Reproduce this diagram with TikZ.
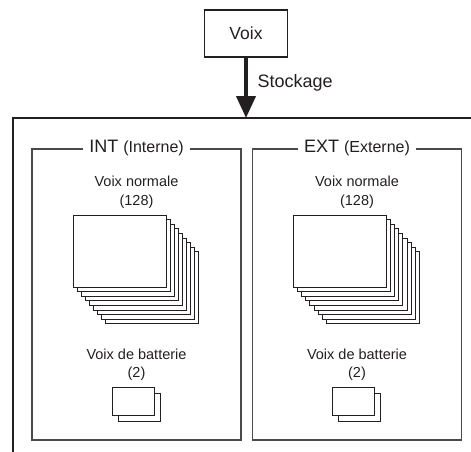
\documentclass[tikz,border=0pt]{standalone}
\usepackage{fontspec}
\setmainfont{Liberation Sans}
\usetikzlibrary{arrows.meta,positioning,calc}
\definecolor{ink}{HTML}{231F20}
\definecolor{frame}{HTML}{4A4A4A}

\begin{document}
\begin{tikzpicture}[x=1pt, y=-1pt,
    box/.style={draw=ink, line width=1.4pt, minimum width=83pt, minimum height=47pt,
                font=\fontsize{17.5}{20}\selectfont, text=ink},
    panel/.style={draw=frame, line width=1.2pt, minimum width=209pt, minimum height=291pt},
    ptitle/.style={fill=white, inner xsep=6pt, inner ysep=1pt, text=ink},
    lbl/.style={font=\fontsize{14.5}{18.5}\selectfont, align=center, text=ink},
    page/.style={draw=ink, fill=white, line width=0.9pt},
    arr/.style={-{Triangle[length=22pt, width=19pt]}, line width=4pt, ink}]
    \useasboundingbox (0,0) rectangle (471,452);
    \node[box] (voix) at (246,33.5) {Voix};
    \coordinate (ftl) at (13,118);
    \coordinate (ftr) at (471,118);
    \coordinate (fbl) at (13,452);
    \draw[ink, line width=2pt] (ftr) -- (ftl) -- (fbl);
    \draw[arr] (voix.south) -- (voix.south |- ftl);
    \node[anchor=west, text=ink, font=\fontsize{18}{20}\selectfont] (stock) at (254,83) {Stockage};
    % INT / EXT
    \foreach \p/\cx/\nm/\lg in {int/136.5/INT/Interne, ext/357/EXT/Externe} {
      \node[panel] (\p) at (\cx,294.5) {};
      \node[ptitle] (\p-t) at (\p.north) {\fontsize{18}{20}\selectfont\nm\
        \fontsize{16}{20}\selectfont(\lg)};
      \node[lbl] (\p-nl) at (\cx,192) {Voix normale\\(128)};
      \foreach \i in {8,...,0}
        \node[page, minimum width=93pt, minimum height=72pt]
          (\p-pg\i) at (\cx-17+4.1*\i, 251+4.6*\i) {};
      \node[lbl] (\p-bl) at (\cx,364.5) {Voix de batterie\\(2)};
      \foreach \i in {1,0}
        \node[page, minimum width=42pt, minimum height=28pt]
          (\p-dr\i) at (\cx-3.5+6*\i, 401+6*\i) {};
    }
\end{tikzpicture}
\end{document}
